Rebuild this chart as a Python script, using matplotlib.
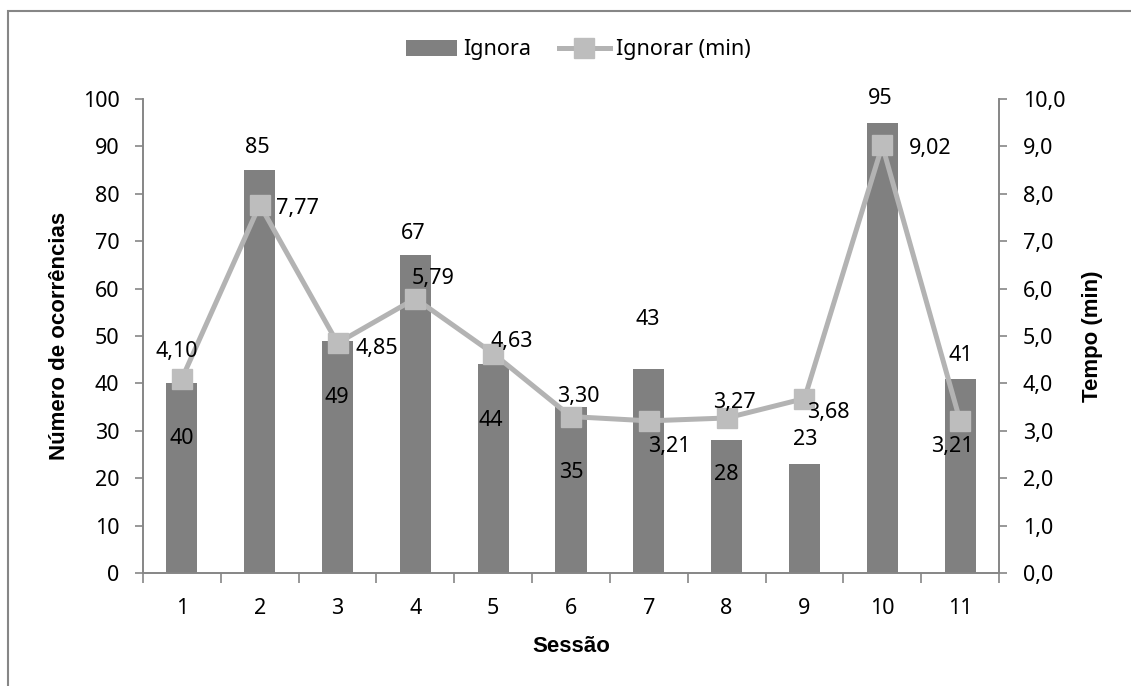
import matplotlib.pyplot as plt
from matplotlib.lines import Line2D
from matplotlib.patches import Patch

plt.rcParams["font.family"] = ["Noto Sans", "DejaVu Sans"]

sessions = [1, 2, 3, 4, 5, 6, 7, 8, 9, 10, 11]
ignora_count = [40, 85, 49, 67, 44, 35, 43, 28, 23, 95, 41]
ignorar_min = [4.10, 7.77, 4.85, 5.79, 4.63, 3.30, 3.21, 3.27, 3.68, 9.02, 3.21]

# label nudges in pixels (dx, dy), one per point
bar_label_offsets = [(0, -55), (-2, 23), (-1, -57), (-2, 22), (-2, -56), (0, -65),
                     (-1, 50), (0, -34), (1, 24), (-2, 24), (1, 23)]
line_label_offsets = [(-5, 27), (38, -4), (39, -5), (18, 20), (19, 12), (7, 20),
                      (20, -26), (8, 16), (24, -14), (48, -3), (-8, -26)]

BAR_COLOR = "#808080"
LINE_COLOR = "#b3b3b3"
MARKER_COLOR = "#bdbdbd"
AXIS_COLOR = "#868686"
FS = 15.5
LABEL_FS = 16


def fmt_pt(v, nd):
    return f"{v:.{nd}f}".replace(".", ",")


fig = plt.figure(figsize=(11.31, 6.86), dpi=100)
ax = fig.add_axes([143 / 1131, 113 / 686, 856 / 1131, 474 / 686])
ax2 = ax.twinx()

x = list(range(len(sessions)))
ax.bar(x, ignora_count, width=0.4, color=BAR_COLOR, zorder=2)
ax2.plot(x, ignorar_min, color=LINE_COLOR, lw=3.6, marker="s", ms=14,
         mfc=MARKER_COLOR, mec=MARKER_COLOR, zorder=3)

ax.set_xlim(-0.5, len(sessions) - 0.5)
ax.set_ylim(0, 100)
ax2.set_ylim(0, 10)
ax.set_yticks(range(0, 101, 10))
ax2.set_yticks(range(0, 11))
ax2.set_yticklabels([fmt_pt(v, 1) for v in range(0, 11)])
ax.set_xticks(x)
ax.set_xticklabels([str(s) for s in sessions])
ax.set_xticks([i - 0.5 for i in range(len(sessions) + 1)], minor=True)

for a in (ax, ax2):
    a.spines["top"].set_visible(False)
    for side in ("left", "right", "bottom"):
        a.spines[side].set_color(AXIS_COLOR)
        a.spines[side].set_linewidth(1.2)
    a.tick_params(axis="y", colors=AXIS_COLOR, labelcolor="black",
                  labelsize=FS, length=6, width=1.2, pad=11)
ax.tick_params(axis="x", which="major", length=0, labelsize=FS, pad=18)
ax.tick_params(axis="x", which="minor", length=7, width=1.2, color=AXIS_COLOR)
ax.set_zorder(ax2.get_zorder() - 1)
ax2.patch.set_visible(False)

ax.set_xlabel("Sessão", fontsize=LABEL_FS, fontweight="bold",
              family="Liberation Sans", labelpad=12)
ax.set_ylabel("Número de ocorrências", fontsize=LABEL_FS, fontweight="bold",
              family="Liberation Sans", labelpad=9)
ax2.set_ylabel("Tempo (min)", fontsize=LABEL_FS, fontweight="bold",
               family="Liberation Sans", labelpad=12)

for xi, v, (dx, dy) in zip(x, ignora_count, bar_label_offsets):
    ax.annotate(str(v), (xi, v), xytext=(dx, dy), textcoords="offset pixels",
                ha="center", va="center", fontsize=FS, zorder=5)
for xi, v, (dx, dy) in zip(x, ignorar_min, line_label_offsets):
    ax2.annotate(fmt_pt(v, 2), (xi, v), xytext=(dx, dy), textcoords="offset pixels",
                 ha="center", va="center", fontsize=FS, zorder=5)

handles = [
    Patch(facecolor=BAR_COLOR, label="Ignora"),
    Line2D([], [], color=LINE_COLOR, lw=3.6, marker="s", ms=14,
           mfc=MARKER_COLOR, mec=MARKER_COLOR, label="Ignorar (min)"),
]
fig.legend(handles=handles, loc="center", bbox_to_anchor=(578 / 1131, 1 - 50 / 686),
           ncol=2, frameon=False, fontsize=FS, handlelength=2.4,
           handletextpad=0.25, columnspacing=1.3, borderpad=0)

# chart frame
frame = plt.Rectangle((8 / 1131, -0.1), 1.2, 1 - 11 / 686 + 0.1,
                      transform=fig.transFigure, fill=False,
                      edgecolor=AXIS_COLOR, lw=1.5)
fig.patches.append(frame)

fig.savefig("out.png", dpi=100)
